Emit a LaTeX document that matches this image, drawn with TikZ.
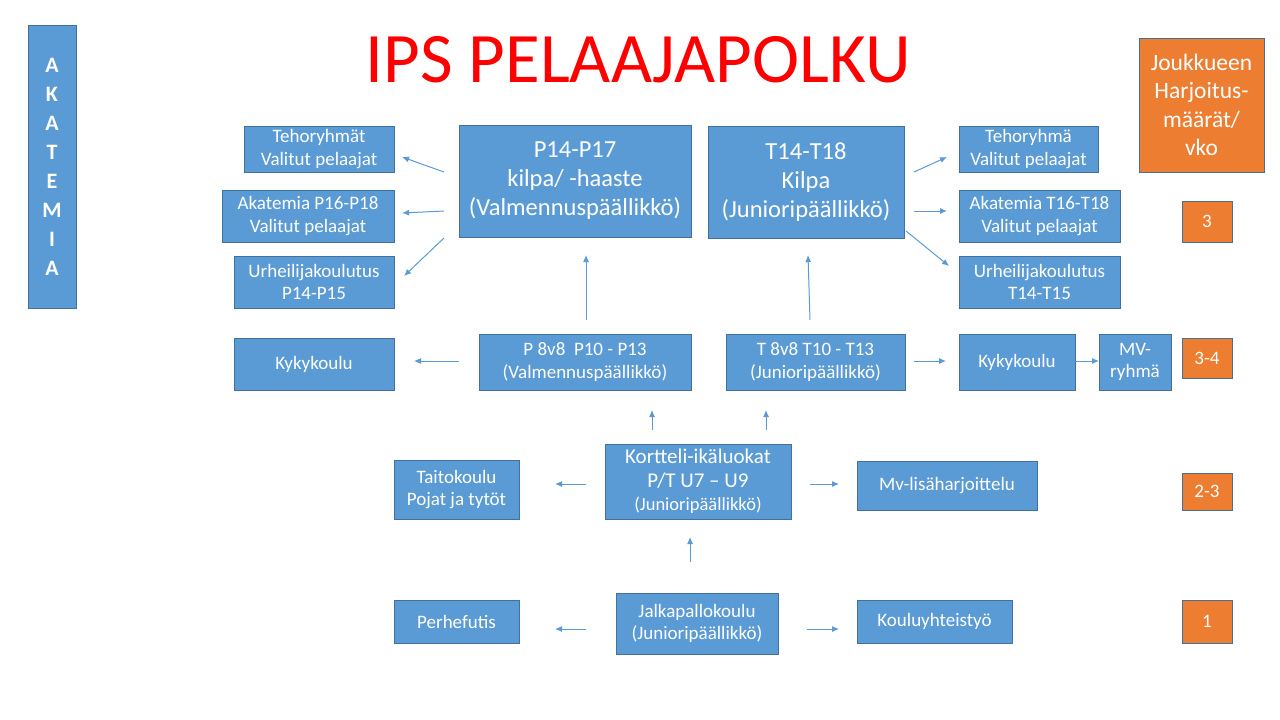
\documentclass[tikz,border=0pt]{standalone}
\usepackage{fontspec}
\setmainfont{Carlito}
\usetikzlibrary{arrows.meta}
\definecolor{bfill}{HTML}{5B9BD5}
\definecolor{bline}{HTML}{41719C}
\definecolor{ofill}{HTML}{ED7D31}
\definecolor{ttl}{HTML}{FF0000}
\tikzset{
  box/.style={draw=bline, line width=0.8pt, fill=bfill, text=white, align=center, inner sep=0pt},
  obox/.style={draw=bline, line width=0.8pt, fill=ofill, text=white, align=center, inner sep=0pt},
  sm/.style={font=\fontsize{19}{22.5}\selectfont},
  lg/.style={font=\fontsize{24.5}{29}\selectfont},
  arr/.style={draw=bfill, line width=1pt, -{Latex[length=7pt,width=6pt]}},
}
\begin{document}
\begin{tikzpicture}[x=1pt,y=-1pt]
\useasboundingbox[fill=white] (0,0) rectangle (1280,720);

\node[text=ttl, font=\fontsize{71}{80}\selectfont] (title) at (638,60) {IPS PELAAJAPOLKU};

\node[box, minimum width=48, minimum height=283, font=\bfseries\fontsize{22}{29}\selectfont] (akat) at (52,167) {A\\K\\A\\T\\E\\M\\I\\A};

\node[obox, minimum width=125, minimum height=134, font=\fontsize{23.5}{28.5}\selectfont] (jouk) at (1201.5,105) {Joukkueen\\Harjoitus-\\määrät/\\vko};

% top row
\node[box, sm, minimum width=150, minimum height=46] (teho1) at (319,149) {Tehoryhmät\\Valitut pelaajat};
\node[box, sm, minimum width=172, minimum height=52] (akaP) at (308,216) {Akatemia P16-P18\\Valitut pelaajat};
\node[box, sm, minimum width=160, minimum height=52] (urhP) at (314,282) {Urheilijakoulutus\\P14-P15};
\node[box, lg, minimum width=232, minimum height=112] (P14) at (575,181) {P14-P17\\kilpa/ -haaste\\(Valmennuspäällikkö)};
\node[box, lg, minimum width=196, minimum height=112] (T14) at (806,182) {T14-T18\\Kilpa\\(Junioripäällikkö)};
\node[box, sm, minimum width=139, minimum height=46] (teho2) at (1028.5,149) {Tehoryhmä\\Valitut pelaajat};
\node[box, sm, minimum width=161, minimum height=52] (akaT) at (1039.5,216) {Akatemia T16-T18\\Valitut pelaajat};
\node[box, sm, minimum width=161, minimum height=52] (urhT) at (1039.5,282) {Urheilijakoulutus\\T14-T15};
\node[obox, sm, minimum width=50, minimum height=41] (o3) at (1207,221.5) {3};

% 8v8 row
\node[box, sm, minimum width=160, minimum height=52] (kykyL) at (314,364) {Kykykoulu};
\node[box, sm, minimum width=212, minimum height=56] (P8) at (585,362) {P 8v8\ \ P10 - P13\\(Valmennuspäällikkö)};
\node[box, sm, minimum width=179, minimum height=56] (T8) at (815.5,362) {T 8v8 T10 - T13\\(Junioripäällikkö)};
\node[box, sm, minimum width=116, minimum height=56] (kykyR) at (1017,362) {Kykykoulu};
\node[box, sm, minimum width=72, minimum height=56] (mv) at (1135,362) {MV-\\ryhmä};
\node[obox, sm, minimum width=50, minimum height=40] (o34) at (1207,358) {3-4};

% kortteli row
\node[box, sm, minimum width=125, minimum height=59] (taito) at (456.5,489.5) {Taitokoulu\\Pojat ja tytöt};
\node[box, minimum width=186, minimum height=75] (kort) at (698,481.5) {};
\node[text=white, align=center, font=\fontsize{21}{23.5}\selectfont, anchor=north, inner sep=0pt] (korttxt) at (698,449) {Kortteli-ikäluokat\\P/T U7 -- U9\\{\fontsize{18.5}{18}\selectfont (Junioripäällikkö)}};
\node[box, sm, minimum width=180, minimum height=49] (mvl) at (947,485.5) {Mv-lisäharjoittelu};
\node[obox, sm, minimum width=50, minimum height=37] (o23) at (1207,491.5) {2-3};

% bottom row
\node[box, sm, minimum width=125, minimum height=43] (perhe) at (456.5,621.5) {Perhefutis};
\node[box, sm, minimum width=162, minimum height=61] (jalka) at (697,623.5) {Jalkapallokoulu\\(Junioripäällikkö)};
\node[box, sm, minimum width=155, minimum height=43] (koulu) at (934.5,621.5) {Kouluyhteistyö};
\node[obox, sm, minimum width=50, minimum height=43] (o1) at (1207,621.5) {1};

% arrow coordinates
\coordinate (a1s) at (444,172); \coordinate (a1e) at (402,157);
\coordinate (a2s) at (444,211); \coordinate (a2e) at (402,213);
\coordinate (a3s) at (444,238); \coordinate (a3e) at (404,276);
\coordinate (a4s) at (586,320); \coordinate (a4e) at (586,255);
\coordinate (b1s) at (914,172); \coordinate (b1e) at (947,157);
\coordinate (b2s) at (914,211); \coordinate (b2e) at (947,211);
\coordinate (b3s) at (906,231); \coordinate (b3e) at (949,266);
\coordinate (b4s) at (810,320); \coordinate (b4e) at (808,255);
\coordinate (c1s) at (459,361); \coordinate (c1e) at (414,361);
\coordinate (c2s) at (914,361); \coordinate (c2e) at (946,361);
\coordinate (c3s) at (1075,361); \coordinate (c3e) at (1099,361);
\coordinate (d1s) at (652,430); \coordinate (d1e) at (652,410);
\coordinate (d2s) at (766,430); \coordinate (d2e) at (766,410);
\coordinate (d3s) at (586,484); \coordinate (d3e) at (555,484);
\coordinate (d4s) at (810,484); \coordinate (d4e) at (839,484);
\coordinate (e1s) at (690,562); \coordinate (e1e) at (690,537);
\coordinate (e2s) at (586,629); \coordinate (e2e) at (555,629);
\coordinate (e3s) at (807,629); \coordinate (e3e) at (839,629);

\foreach \p in {a1,a2,a3,a4,b1,b2,b3,b4,c1,c2,c3,d1,d2,d3,d4,e1,e2,e3}
  \draw[arr] (\p s) -- (\p e);
\end{tikzpicture}
\end{document}
